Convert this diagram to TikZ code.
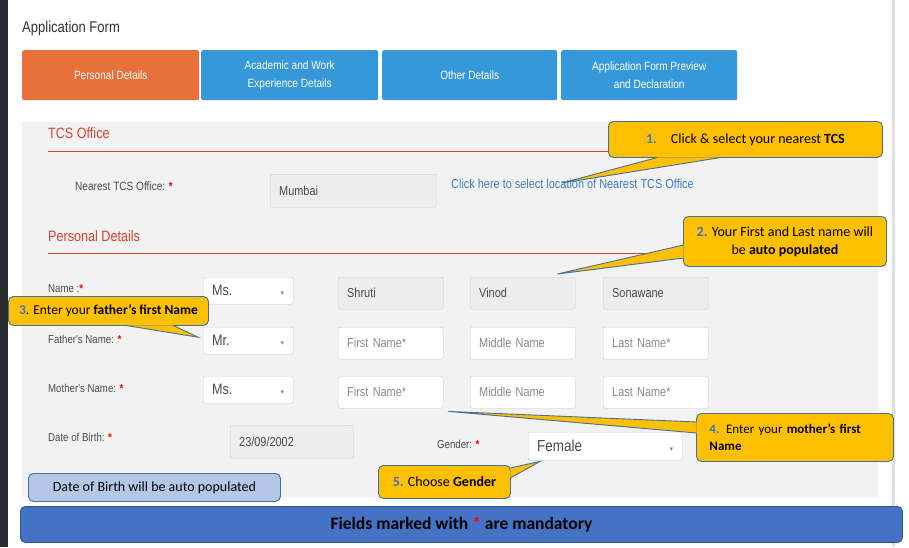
\documentclass[tikz,border=0pt]{standalone}
\usepackage{fontspec}
\usepackage{tikz}
\setmainfont{Carlito}
\newfontfamily\formfont[FakeStretch=0.84]{Liberation Sans}
\newfontfamily\symfont{DejaVu Sans}

\definecolor{stripDark}{HTML}{2B2B2F}
\definecolor{tabOrange}{HTML}{E8703A}
\definecolor{tabBlue}{HTML}{3598DB}
\definecolor{panelGray}{HTML}{F2F2F2}
\definecolor{headRed}{HTML}{D9412E}
\definecolor{labelGray}{HTML}{4A4A4A}
\definecolor{holderGray}{HTML}{8A8A8A}
\definecolor{linkBlue}{HTML}{3F7CC4}
\definecolor{calloutYellow}{HTML}{FFC000}
\definecolor{calloutEdge}{HTML}{41719C}
\definecolor{numBlue}{HTML}{4472C4}
\definecolor{noteFill}{HTML}{B4C7E7}
\definecolor{barFill}{HTML}{4472C4}
\definecolor{barEdge}{HTML}{2F528F}

\tikzset{
  tab/.style={fill=tabBlue, rounded corners=2pt, anchor=north west, inner sep=0,
    minimum width=177, minimum height=50, align=center, text=white,
    font=\formfont\fontsize{12}{18}\selectfont},
  heading/.style={anchor=west, inner sep=0, text=headRed, font=\formfont\fontsize{15}{17}\selectfont},
  rule/.style={headRed, line width=0.8pt},
  lbl/.style={anchor=west, inner sep=0, text=labelGray, font=\formfont\fontsize{11.5}{13}\selectfont},
  field/.style={draw=black!20, fill=white, rounded corners=2pt, anchor=north west,
    inner xsep=9, inner ysep=0, text width=87, minimum height=32, align=left,
    text=holderGray, font=\formfont\fontsize{13}{15}\selectfont},
  filled/.style={field, fill=black!7, text=labelGray},
  drop/.style={field, text width=72, minimum height=27, text=labelGray,
    font=\formfont\fontsize{15}{17}\selectfont},
  callout/.style={fill=calloutYellow, draw=calloutEdge, line width=0.9pt, rounded corners=5pt,
    anchor=north west, inner sep=0, align=center, font=\fontsize{14}{18}\selectfont},
  ptr/.style={fill=calloutYellow, draw=calloutEdge, line width=0.9pt},
}
\newcommand{\req}{\textcolor{red}{\textbf{*}}}
\newcommand{\arrowdown}{\hfill{\symfont\fontsize{7}{8}\selectfont\textcolor{holderGray}{▾}}}
\newcommand{\num}[1]{\textcolor{numBlue}{\textbf{#1}}}

\begin{document}
\begin{tikzpicture}[x=1pt,y=-1pt]
  \useasboundingbox (0,0) rectangle (909,547);
  \fill[white] (0,0) rectangle (909,547);
  % Window edges
  \fill[stripDark] (0,0) rectangle (8,547);
  \fill[black!12] (892,0) rectangle (895,547);
  % Title and tabs
  \node[anchor=west, inner sep=0, text=black!80, font=\formfont\fontsize{15.5}{17}\selectfont] (title) at (22,28) {Application Form};
  \node[tab, fill=tabOrange] (tabPersonal) at (22,50) {Personal Details};
  \node[tab] (tabAcademic) at (201,50) {Academic and Work\\Experience Details};
  \node[tab, minimum width=175] (tabOther) at (382,50) {Other Details};
  \node[tab, minimum width=176] (tabPreview) at (561,50) {Application Form Preview\\and Declaration};
  % Form panel
  \fill[panelGray] (22,122) rectangle (878,497);
  % TCS office section
  \node[heading] (hOffice) at (48,133) {TCS Office};
  \draw[rule] (48,151) -- (860,151);
  \node[lbl, font=\formfont\fontsize{12}{13}\selectfont] (lOffice) at (75,186) {Nearest TCS Office: \req};
  \node[filled, text width=148, minimum height=33] (fOffice) at (270,174) {Mumbai};
  \node[anchor=west, inner sep=0, text=linkBlue, font=\formfont\fontsize{13}{14}\selectfont] (link) at (451,184) {Click here to select location of Nearest TCS Office};
  % Personal details section
  \node[heading] (hPersonal) at (48,236) {Personal Details};
  \draw[rule] (48,253) -- (860,253);
  \node[lbl] (lName) at (48,289) {Name :\req};
  \node[lbl] (lFather) at (48,339) {Father's Name: \req};
  \node[lbl] (lMother) at (48,388) {Mother's Name: \req};
  \node[lbl] (lBirth) at (48,437) {Date of Birth: \req};
  % Name row
  \node[drop] (ddName) at (203,277) {Ms.\arrowdown};
  \node[filled] (fnShruti) at (338,277) {Shruti};
  \node[filled] (fnVinod) at (470,277) {Vinod};
  \node[filled] (fnSonawane) at (603,277) {Sonawane};
  % Father row
  \node[drop] (ddFather) at (203,327) {Mr.\arrowdown};
  \node[field] (faFirst) at (338,327) {First Name*};
  \node[field] (faMiddle) at (470,327) {Middle Name};
  \node[field] (faLast) at (603,327) {Last Name*};
  % Mother row
  \node[drop] (ddMother) at (203,376) {Ms.\arrowdown};
  \node[field] (moFirst) at (338,376) {First Name*};
  \node[field] (moMiddle) at (470,376) {Middle Name};
  \node[field] (moLast) at (603,376) {Last Name*};
  % Birth date and gender
  \node[filled, text width=105, minimum height=33] (fBirth) at (230,425) {23/09/2002};
  \node[lbl, font=\formfont\fontsize{11.5}{13}\selectfont] (lGender) at (437,444) {Gender: \req};
  \node[drop, text width=136, minimum height=28, font=\formfont\fontsize{16}{18}\selectfont] (ddGender) at (528,432) {Female\arrowdown};
  % Notes
  \node[fill=noteFill, draw=calloutEdge, line width=0.9pt, rounded corners=5pt, anchor=north west,
    minimum width=252, minimum height=28, font=\fontsize{14}{16}\selectfont] (dobNote) at (28,473) {Date of Birth will be auto populated};
  \node[fill=barFill, draw=barEdge, line width=0.9pt, rounded corners=5pt, anchor=north west,
    minimum width=882, minimum height=36, font=\bfseries\fontsize{17.5}{19}\selectfont] (mandatory) at (20,506) {Fields marked with \textcolor{red}{*} are mandatory};
  % Callouts
  \node[callout, minimum width=274, minimum height=36] (c1) at (608,121) {\num{1.}\quad Click \& select your nearest \textbf{TCS}};
  \node[callout, minimum width=203, minimum height=50] (c2) at (683,216) {\num{2.} Your First and Last name will\\be \textbf{auto populated}};
  \node[callout, minimum width=200, minimum height=29, font=\fontsize{13.5}{16}\selectfont] (c3) at (8,296) {\num{3}. Enter your \textbf{father's first Name}};
  \node[callout, minimum width=197, minimum height=48, inner xsep=13, text width=171, align=left,
    font=\fontsize{13}{17}\selectfont] (c4) at (696,413) {\num{4.} Enter your \textbf{mother's first}\\\textbf{Name}};
  \node[callout, minimum width=132, minimum height=33] (c5) at (378,465) {\num{5.} Choose \textbf{Gender}};
  % Pointer tips
  \coordinate (tip1) at ([xshift=111,yshift=1]link.west);
  \coordinate (tip2) at ([xshift=-18,yshift=3]fnVinod.north east);
  \coordinate (tip3) at ([xshift=-5,yshift=3.5]ddFather.west);
  \coordinate (tip4) at ([xshift=5,yshift=-3]moFirst.south east);
  \coordinate (tip5) at ([xshift=12,yshift=-1]ddGender.south west);
  % Pointers
  \filldraw[ptr] ([xshift=50,yshift=0.6]c1.south west) -- (tip1) -- ([xshift=114,yshift=0.6]c1.south west);
  \filldraw[ptr] ([xshift=0.6,yshift=-29]c2.north west) -- (tip2) -- ([xshift=0.6,yshift=-42]c2.north west);
  \filldraw[ptr] ([xshift=117,yshift=0.6]c3.south west) -- (tip3) -- ([xshift=165,yshift=0.6]c3.south west);
  \filldraw[ptr] ([xshift=0.6,yshift=-9]c4.north west) -- (tip4) -- ([xshift=0.6,yshift=-20]c4.north west);
  \filldraw[ptr] ([xshift=-0.6,yshift=-3]c5.north east) -- (tip5) -- ([xshift=-0.6,yshift=-13]c5.north east);
\end{tikzpicture}
\end{document}
